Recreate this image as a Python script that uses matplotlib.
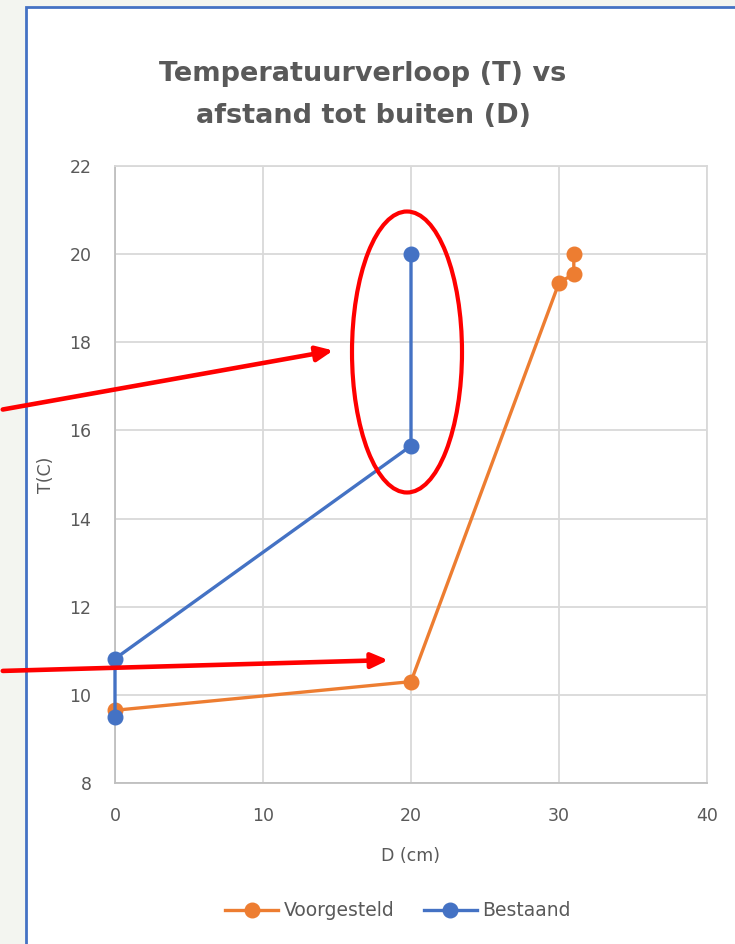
import matplotlib.pyplot as plt
from matplotlib.patches import Rectangle, Ellipse

# meetpunten: afstand tot buiten (cm) en temperatuur (C)
d_voorgesteld = [0, 20, 30, 31, 31]
t_voorgesteld = [9.65, 10.3, 19.35, 19.55, 20.0]

d_bestaand = [0, 0, 20, 20]
t_bestaand = [9.5, 10.82, 15.65, 20.0]

x_ticks = [0, 10, 20, 30, 40]
y_ticks = [8, 10, 12, 14, 16, 18, 20, 22]

oranje = '#ed7d31'
blauw = '#4472c4'
grijs = '#595959'

fig = plt.figure(figsize=(7.35, 9.44), dpi=100)
fig.patch.set_facecolor('#f3f5f0')

# witte kader met blauwe rand
W, H = 735, 944
kader = Rectangle((26 / W, 0 - 0.01), 1.0, 1 - 7 / H + 0.01, transform=fig.transFigure,
                  facecolor='white', edgecolor=blauw, linewidth=2, zorder=-1)
fig.add_artist(kader)

ax = fig.add_axes([115 / W, 1 - 783 / H, (707 - 115) / W, (783 - 166) / H])
ax.set_facecolor('white')

ax.plot(d_voorgesteld, t_voorgesteld, color=oranje, lw=2.4, marker='o', ms=10.5,
        label='Voorgesteld', clip_on=False, zorder=3)
ax.plot(d_bestaand, t_bestaand, color=blauw, lw=2.4, marker='o', ms=10.5,
        label='Bestaand', clip_on=False, zorder=4)

ax.set_xlim(0, 40)
ax.set_ylim(8, 22)
ax.set_xticks(x_ticks)
ax.set_yticks(y_ticks)
ax.grid(True, color='#d9d9d9', lw=1.3)
ax.set_axisbelow(True)
for s in ax.spines.values():
    s.set_color('#d9d9d9')
    s.set_linewidth(1.3)
ax.spines['left'].set_color('#bfbfbf')
ax.spines['bottom'].set_color('#bfbfbf')
ax.tick_params(length=0, labelsize=12.5, labelcolor=grijs)
ax.tick_params(axis='x', pad=17)
ax.tick_params(axis='y', pad=17)

ax.set_xlabel('D (cm)', fontsize=12.5, color=grijs, labelpad=16)
ax.set_ylabel('T(C)', fontsize=12.5, color=grijs, labelpad=10)

fig.text(363 / W, 1 - 95 / H, 'Temperatuurverloop (T) vs\nafstand tot buiten (D)',
         ha='center', va='center', fontsize=19.5, fontweight='bold', color=grijs,
         linespacing=1.8)

fig.legend(loc='center', bbox_to_anchor=(398 / W, 1 - 911 / H), ncol=2, frameon=False,
           fontsize=13.5, labelcolor=grijs, handlelength=2.8, columnspacing=1.6,
           handletextpad=0.3)

# rode markeringen
ell = Ellipse((407 / W, 1 - 352 / H), 110 / W, 281 / H, transform=fig.transFigure,
              fill=False, edgecolor='red', lw=3, zorder=10)
fig.add_artist(ell)

pijl = dict(arrowstyle='-|>,head_length=1.0,head_width=0.45', color='red', lw=3.3)
ax.annotate('', xy=(336 / W, 1 - 350 / H), xytext=(0, 1 - 410 / H),
            xycoords='figure fraction', arrowprops=pijl, annotation_clip=False, zorder=10)
ax.annotate('', xy=(391 / W, 1 - 660 / H), xytext=(0, 1 - 671 / H),
            xycoords='figure fraction', arrowprops=pijl, annotation_clip=False, zorder=10)

plt.savefig('out.png', dpi=100, facecolor=fig.get_facecolor())
